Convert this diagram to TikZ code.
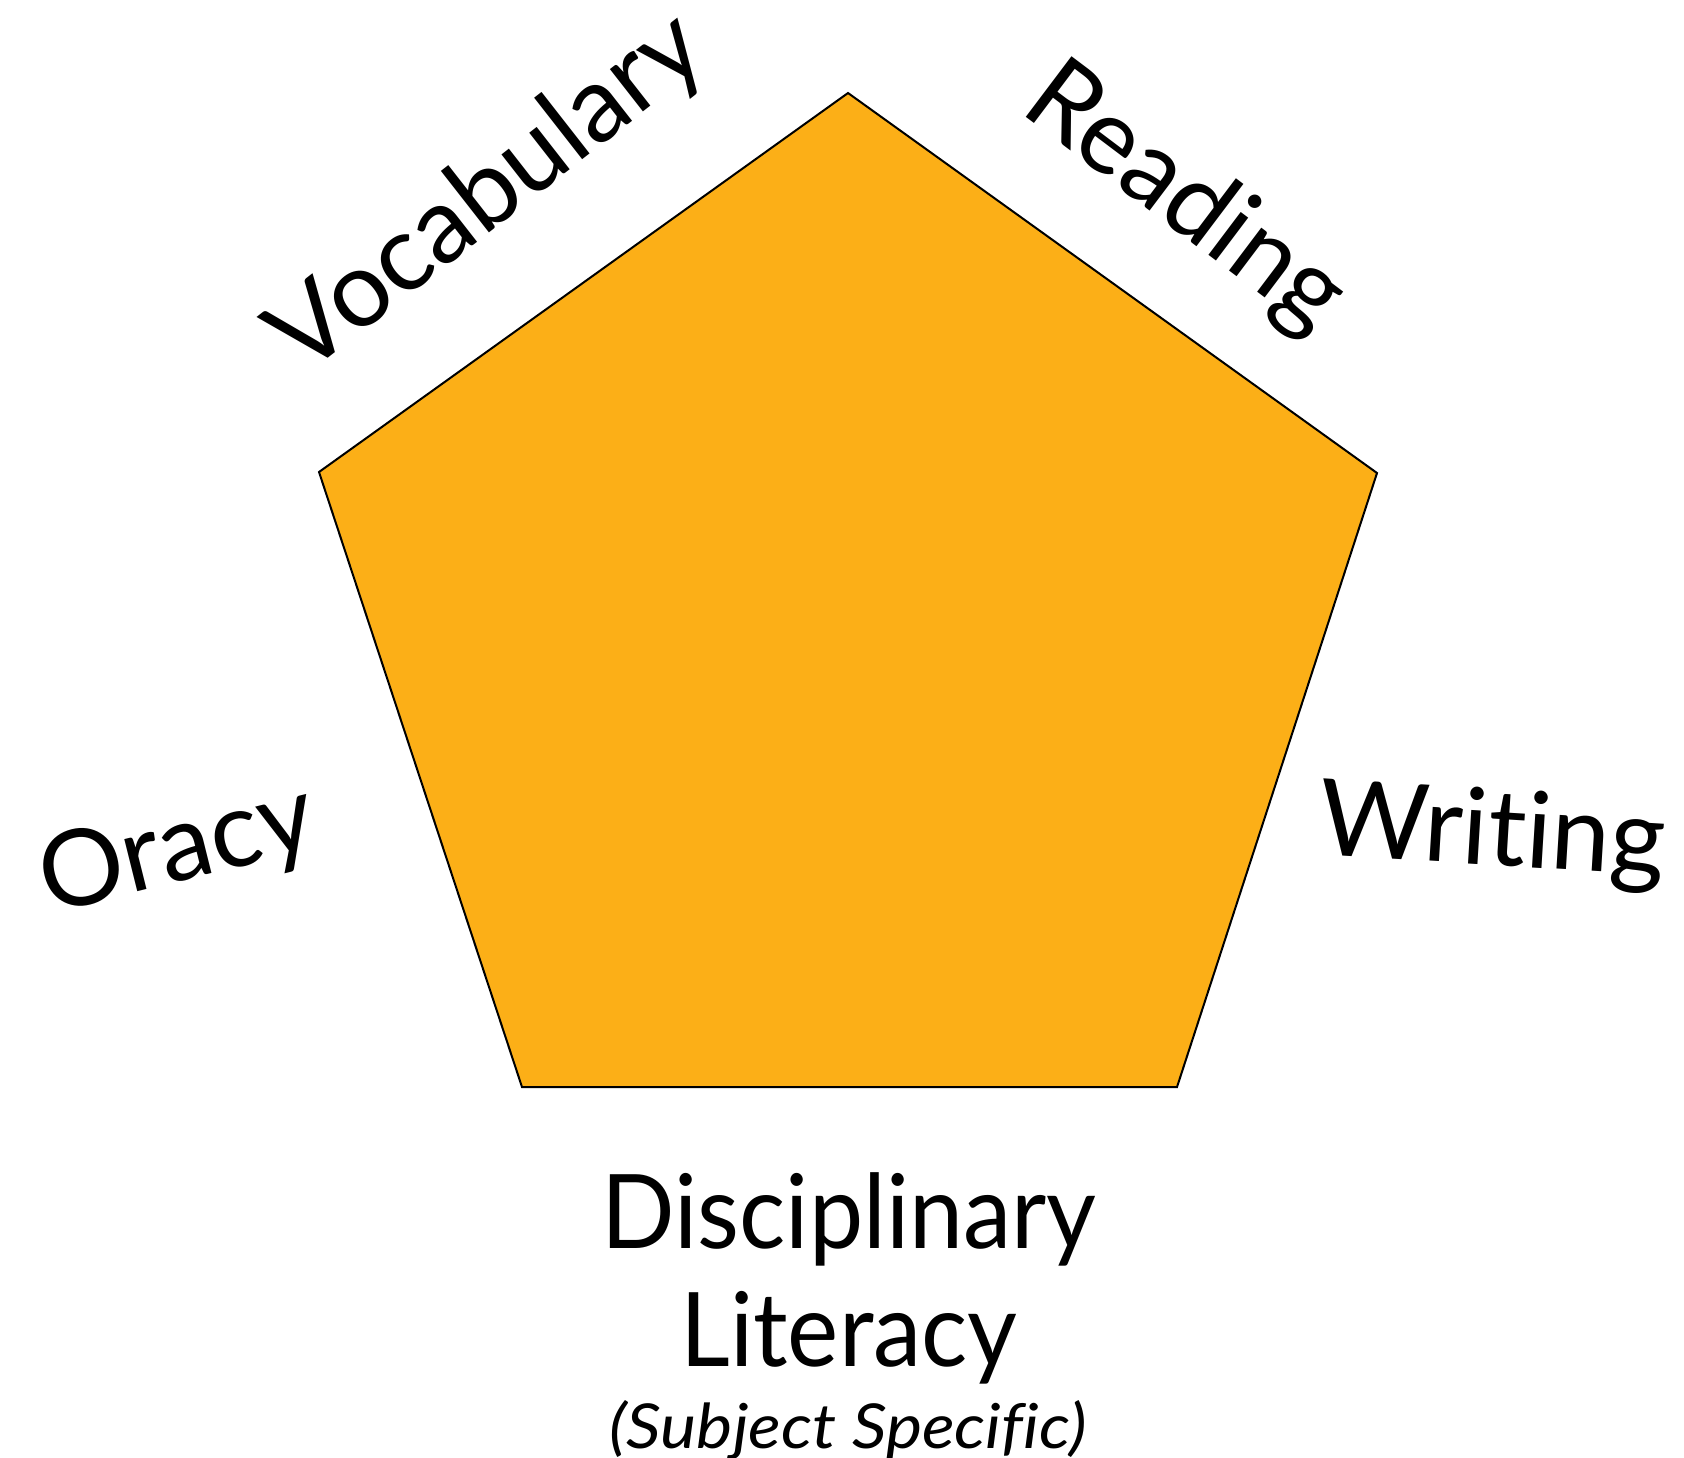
\documentclass[tikz,border=0pt]{standalone}
\usepackage{fontspec}
\setmainfont{Lato}[Ligatures={NoCommon}]
\usepackage{xcolor}
\usepackage{tikz}
\usetikzlibrary{positioning, calc}
\definecolor{litorange}{HTML}{FCAF17}
\tikzstyle{pent} = [draw=black, line width=1pt, fill=litorange, line join=miter]
\tikzstyle{skill} = [font=\fontsize{53}{63}\selectfont, inner sep=0pt, text=black]
\tikzstyle{core} = [font=\fontsize{51.5}{59}\selectfont, inner sep=0pt, align=center, text=black, xscale=0.94]
\tikzstyle{note} = [font=\fontsize{31}{36}\selectfont\itshape, inner sep=0pt, text=black, xscale=1.1]

\begin{document}
\begin{tikzpicture}[x=0.5pt, y=-0.5pt]
    \useasboundingbox (0,0) rectangle (1684,1457);

    % pentagon corners
    \coordinate (top) at (848,93);
    \coordinate (right) at (1377,473);
    \coordinate (bright) at (1177,1087);
    \coordinate (bleft) at (522,1087);
    \coordinate (left) at (319,472);
    \draw [pent] (top) -- (right) -- (bright) -- (bleft) -- (left) -- cycle;

    % the five strands
    \node (vocab) [skill, rotate=38] at (489,195) {Vocabulary};
    \node (read) [skill, rotate=-37] at (1184,200) {Reading};
    \node (oracy) [skill, rotate=14] at (178,852) {Oracy};
    \node (write) [skill, rotate=-3.5] at (1492,836) {Writing};
    \node (disc) [core, anchor=north] at (849,1172) {Disciplinary\\Literacy};
    \node (subj) [note, anchor=base] at (848,1448) {(Subject Specific)};
\end{tikzpicture}
\end{document}
